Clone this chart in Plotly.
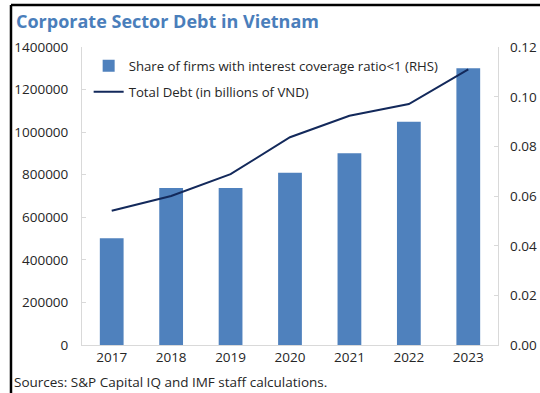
import plotly.graph_objects as go

years = ["2017", "2018", "2019", "2020", "2021", "2022", "2023"]
share_icr_below_1 = [0.0430, 0.0632, 0.0632, 0.0694, 0.0772, 0.0899, 0.1114]
total_debt_bn_vnd = [631000, 700000, 803000, 976000, 1077000, 1132000, 1295000]

left_ticks = [0, 200000, 400000, 600000, 800000, 1000000, 1200000, 1400000]
right_ticks = [0.00, 0.02, 0.04, 0.06, 0.08, 0.10, 0.12]

BAR_BLUE = "#4f81bd"
LINE_NAVY = "#13295b"
AXIS_GREY = "#d9d9d9"
TEXT = "#262626"
FONT = "Open Sans"

fig = go.Figure()

fig.add_trace(go.Bar(
    x=years, y=share_icr_below_1, yaxis="y2",
    name="Share of firms with interest coverage ratio<1 (RHS)",
    marker=dict(color=BAR_BLUE, line=dict(width=0)),
    legendgroup="a",
))
fig.add_trace(go.Scatter(
    x=years, y=total_debt_bn_vnd, yaxis="y", mode="lines",
    name="Total Debt (in billions of VND)",
    line=dict(color=LINE_NAVY, width=2),
    legendgroup="b",
))

# right-hand labels, set a little further out from the axis line
right_labels = [
    dict(text=f"{v:.2f}", xref="paper", yref="y2", x=1, y=v,
         xanchor="left", yanchor="middle", xshift=10, showarrow=False,
         font=dict(family=FONT, size=13.5, color=TEXT))
    for v in right_ticks
]

fig.update_layout(
    width=540, height=393,
    margin=dict(l=82, r=42, t=47, b=48),
    paper_bgcolor="white", plot_bgcolor="white",
    font=dict(family=FONT, size=13.5, color=TEXT),
    bargap=0.6,
    showlegend=True,
    legend=dict(
        x=0.016, y=0.988, xanchor="left", yanchor="top",
        bgcolor="rgba(0,0,0,0)", traceorder="grouped", tracegroupgap=6,
        font=dict(family=FONT, size=13.2, color=TEXT),
        itemwidth=30,
    ),
    xaxis=dict(
        type="category", showline=True, linecolor=AXIS_GREY, linewidth=1,
        ticks="", showgrid=False, tickfont=dict(size=13.5, color=TEXT),
    ),
    yaxis=dict(
        side="left", overlaying="y2", range=[0, 1400000],
        tickvals=left_ticks, tickformat="d",
        showline=True, linecolor=AXIS_GREY, linewidth=1,
        ticks="inside", ticklen=4, tickcolor=AXIS_GREY,
        showgrid=False, zeroline=False, ticklabelstandoff=10,
    ),
    yaxis2=dict(
        side="right", range=[0, 0.12],
        tickvals=right_ticks, showticklabels=False,
        showline=True, linecolor=AXIS_GREY, linewidth=1,
        ticks="inside", ticklen=4, tickcolor=AXIS_GREY,
        showgrid=False, zeroline=False,
    ),
    annotations=[
        dict(text="<b>Corporate Sector Debt in Vietnam</b>",
             xref="paper", yref="paper", x=-0.1635, y=1.087,
             xanchor="left", yanchor="middle", showarrow=False,
             font=dict(family=FONT, size=18, color="#4a7ebb")),
        dict(text="Sources: S&P Capital IQ and IMF staff calculations.",
             xref="paper", yref="paper", x=-0.168, y=-0.124,
             xanchor="left", yanchor="middle", showarrow=False,
             font=dict(family=FONT, size=13.5, color=TEXT)),
    ] + right_labels,
    shapes=[
        dict(type="line", xref="paper", yref="paper",
             x0=-0.1707, x1=-0.1707, y0=1.141, y1=-0.17,
             line=dict(color="black", width=2.5)),
        dict(type="line", xref="paper", yref="paper",
             x0=-0.1707, x1=1.11, y0=1.141, y1=1.141,
             line=dict(color="black", width=2.5)),
    ],
)

fig.write_html("out.html")
